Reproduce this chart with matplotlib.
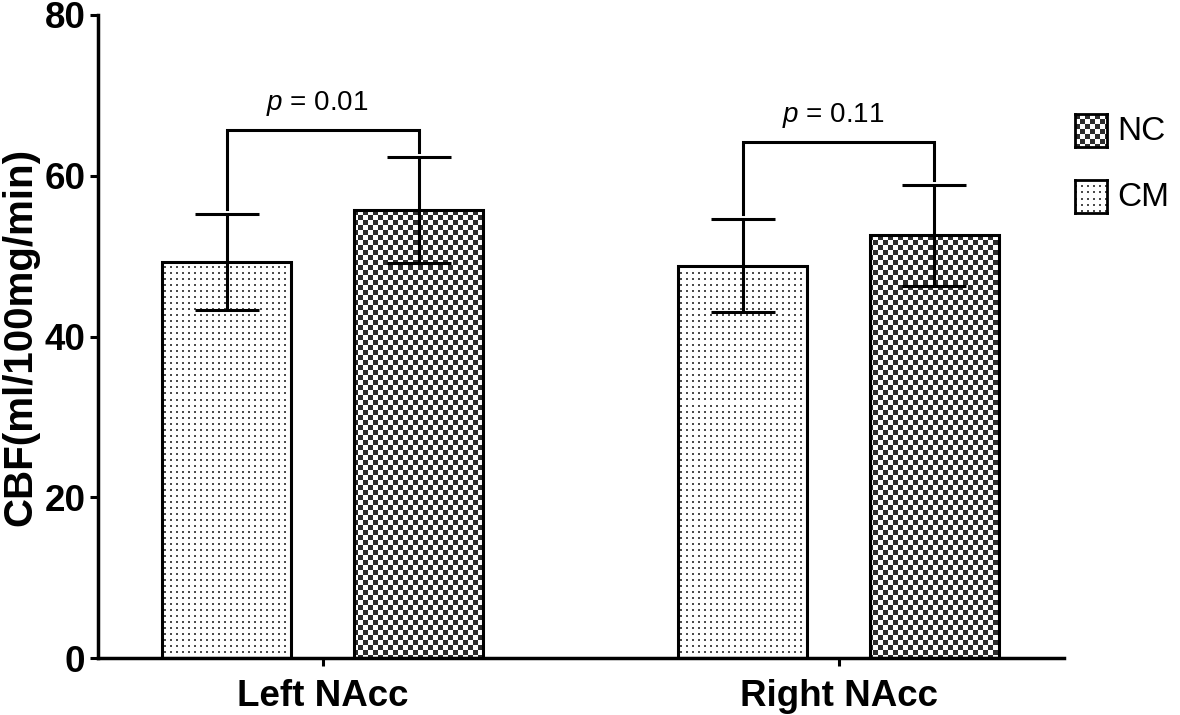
import numpy as np
import matplotlib
matplotlib.use('Agg')
import matplotlib.pyplot as plt

plt.rcParams['font.family'] = ['Liberation Sans', 'DejaVu Sans']
plt.rcParams['mathtext.fontset'] = 'custom'
plt.rcParams['mathtext.rm'] = 'Liberation Sans'
plt.rcParams['mathtext.it'] = 'Liberation Sans:italic'

# Данные графика.
regions = ['Left NAcc', 'Right NAcc']
groups = ['CM', 'NC']
cm_mean = [49.3, 48.8]
cm_sd = [6.0, 5.8]
nc_mean = [55.7, 52.6]
nc_sd = [6.6, 6.3]
p_values = ['0.01', '0.11']
bracket_y = [65.7, 64.2]


# Текстура в клетку.
def checker(h, w, cell=5):
    yy, xx = np.mgrid[0:h, 0:w]
    mask = ((yy // cell) + (xx // cell)) % 2 == 0
    img = np.ones((h, w, 3))
    img[mask] = 0.18
    return img


# Текстура в точку.
def dots(h, w, step=6):
    yy, xx = np.mgrid[0:h, 0:w]
    mask = ((yy % step) < 2) & ((xx % step) < 2)
    img = np.ones((h, w, 3))
    img[mask] = 0.3
    return img


fig = plt.figure(figsize=(11.8, 7.15), dpi=100)
ax = fig.add_axes([98 / 1180, 57 / 715, 966 / 1180, 643 / 715])

xlim = (-0.4356, 1.4366)
ylim = (0, 80)
tex_cm = dots(643, 966)
tex_nc = checker(643, 966)

x = np.arange(len(regions))
off = 0.1856
width = 0.25

bars_cm = ax.bar(x - off, cm_mean, width, facecolor='none', edgecolor='black',
                 linewidth=2.2, zorder=3)
bars_nc = ax.bar(x + off, nc_mean, width, facecolor='none', edgecolor='black',
                 linewidth=2.2, zorder=3)

for bars, tex in ((bars_cm, tex_cm), (bars_nc, tex_nc)):
    for b in bars:
        im = ax.imshow(tex, extent=[xlim[0], xlim[1], ylim[0], ylim[1]],
                       aspect='auto', interpolation='nearest', zorder=2)
        im.set_clip_path(b)

ax.errorbar(x - off, cm_mean, yerr=cm_sd, fmt='none', ecolor='black',
            elinewidth=2.2, capsize=23, capthick=2.2, zorder=4)
ax.errorbar(x + off, nc_mean, yerr=nc_sd, fmt='none', ecolor='black',
            elinewidth=2.2, capsize=23, capthick=2.2, zorder=4)

# Скобки с p-значениями.
for i in range(len(regions)):
    y0 = cm_mean[i] + cm_sd[i] + 0.6
    y1 = nc_mean[i] + nc_sd[i] + 0.6
    yb = bracket_y[i]
    ax.plot([x[i] - off, x[i] - off, x[i] + off, x[i] + off], [y0, yb, yb, y1],
            color='black', linewidth=2.2, zorder=4, solid_joinstyle='miter')
    ax.text(x[i] - 0.01, yb + 1.5, '$p$ = ' + p_values[i], ha='center',
            va='bottom', fontsize=20)

ax.set_xlim(*xlim)
ax.set_ylim(*ylim)
ax.set_xticks(x)
ax.set_xticklabels(regions, fontsize=26.5, fontweight='bold')
ax.set_yticks([0, 20, 40, 60, 80])
ax.set_yticklabels(['0', '20', '40', '60', '80'], fontsize=26.5, fontweight='bold')
ax.tick_params(axis='y', length=6, width=2.2, pad=3)
ax.tick_params(axis='x', length=6, width=2.2, pad=9)
ax.set_ylabel('CBF(ml/100mg/min)', fontsize=29, fontweight='bold', labelpad=4)

for s in ['top', 'right']:
    ax.spines[s].set_visible(False)
for s in ['left', 'bottom']:
    ax.spines[s].set_linewidth(2.5)

# Легенда вручную.
leg = [('NC', checker(33, 32), 114), ('CM', dots(33, 32), 180)]
for name, tex, top in leg:
    lax = fig.add_axes([1075 / 1180, (715 - top - 33) / 715, 32 / 1180, 33 / 715])
    lax.imshow(tex, aspect='auto', interpolation='nearest')
    lax.set_xticks([])
    lax.set_yticks([])
    for s in lax.spines.values():
        s.set_linewidth(2)
    fig.text(1117 / 1180, (715 - top - 17) / 715, name, fontsize=24, va='center')

fig.savefig('out.png', dpi=100)
